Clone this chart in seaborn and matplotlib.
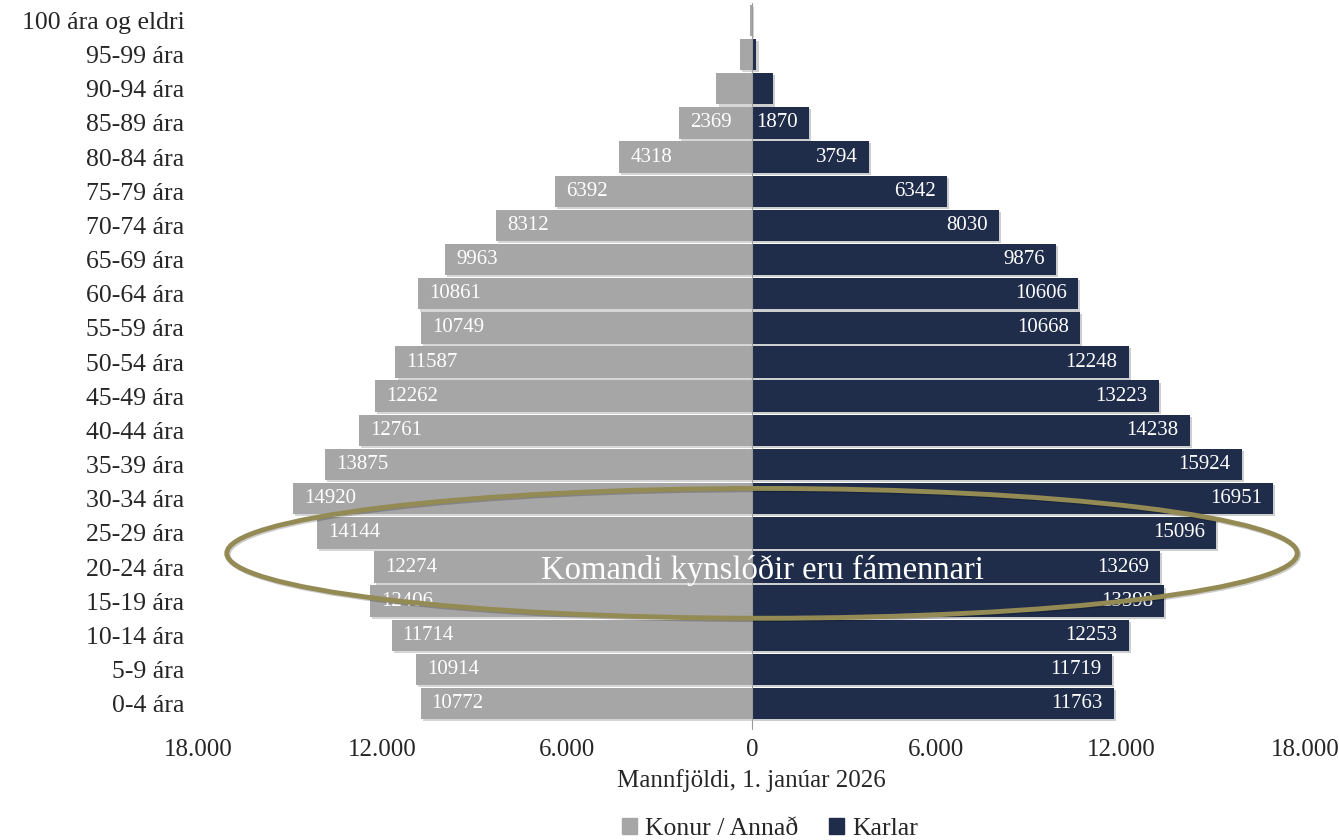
import pandas as pd
import matplotlib.pyplot as plt
import matplotlib.patheffects as pe
from matplotlib.patches import Ellipse, Patch
import seaborn as sns

# age groups, top to bottom
ages = ["100 ára og eldri", "95-99 ára", "90-94 ára", "85-89 ára", "80-84 ára",
        "75-79 ára", "70-74 ára", "65-69 ára", "60-64 ára", "55-59 ára",
        "50-54 ára", "45-49 ára", "40-44 ára", "35-39 ára", "30-34 ára",
        "25-29 ára", "20-24 ára", "15-19 ára", "10-14 ára", "5-9 ára", "0-4 ára"]
women = [50, 380, 1150, 2369, 4318, 6392, 8312, 9963, 10861, 10749, 11587,
         12262, 12761, 13875, 14920, 14144, 12274, 12406, 11714, 10914, 10772]
men = [12, 150, 700, 1870, 3794, 6342, 8030, 9876, 10606, 10668, 12248,
       13223, 14238, 15924, 16951, 15096, 13269, 13398, 12253, 11719, 11763]
# the three oldest groups have no value labels in the original
labelled = [False, False, False] + [True] * 18

xticks = [-18000, -12000, -6000, 0, 6000, 12000, 18000]
xticklabels = ["18.000", "12.000", "6.000", "0", "6.000", "12.000", "18.000"]

GREY = "#A6A6A6"
NAVY = "#1F2D4B"
OLIVE = "#948A54"

df = pd.concat([
    pd.DataFrame({"age": ages, "value": [-v for v in women], "sex": "Konur / Annað"}),
    pd.DataFrame({"age": ages, "value": men, "sex": "Karlar"}),
])

sns.set_style("white")
plt.rcParams["font.family"] = ["Liberation Serif", "DejaVu Serif"]

fig = plt.figure(figsize=(13.39, 8.4), dpi=100)
ax = fig.add_axes([0.148, 0.142, 0.827, 0.854])

sns.barplot(data=df, x="value", y="age", hue="sex", order=ages, dodge=False,
            palette={"Konur / Annað": GREY, "Karlar": NAVY}, width=0.92,
            saturation=1, legend=False, ax=ax)

shadow = [pe.SimplePatchShadow(offset=(1.5, -1.5), alpha=0.2), pe.Normal()]
for p in ax.patches:
    p.set_path_effects(shadow)
    p.set_linewidth(0)

# value labels inside the bar ends
for i, (w, m, show) in enumerate(zip(women, men, labelled)):
    if not show:
        continue
    ax.annotate(str(w), (-w, i), xytext=(8, 0), textcoords="offset points",
                ha="left", va="center", color="white", fontsize=15)
    ax.annotate(str(m), (m, i), xytext=(-8, 0), textcoords="offset points",
                ha="right", va="center", color="white", fontsize=15)

ax.axvline(0, color="#9a9a9a", lw=0.8, ymin=-0.012, ymax=1, clip_on=False, zorder=3)

ax.set_xlim(-18000, 18000)
ax.set_xticks(xticks)
ax.set_xticklabels(xticklabels, fontsize=18)
ax.tick_params(axis="y", labelsize=18.5, length=0, pad=10)
ax.tick_params(axis="x", length=0, pad=13)
ax.set_ylabel("")
ax.set_xlabel("Mannfjöldi, 1. janúar 2026", fontsize=18, labelpad=6)
for s in ax.spines.values():
    s.set_visible(False)

# highlight of the younger generations
ell = Ellipse((330, 15.6), 34800, 3.8, fill=False, edgecolor=OLIVE, lw=3.5, zorder=4,
              path_effects=[pe.SimpleLineShadow(offset=(1, -1), alpha=0.2), pe.Normal()])
ax.add_patch(ell)
ax.text(350, 16.1, "Komandi kynslóðir eru fámennari", ha="center", va="center",
        color="white", fontsize=23.5, zorder=5)

handles = [Patch(color=GREY, label="Konur / Annað"), Patch(color=NAVY, label="Karlar")]
fig.legend(handles=handles, loc="lower center", bbox_to_anchor=(0.575, -0.028), ncol=2,
           frameon=False, fontsize=18.5, handlelength=0.6, handleheight=0.6,
           handletextpad=0.3, columnspacing=1.2)

fig.savefig("out.png", dpi=100)
